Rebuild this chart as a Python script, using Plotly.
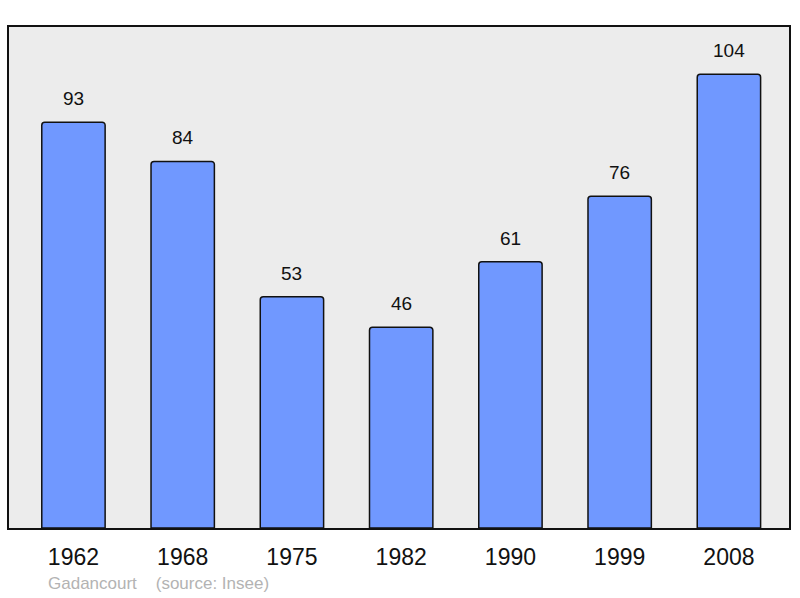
import plotly.graph_objects as go

# population by census year
years = ["1962", "1968", "1975", "1982", "1990", "1999", "2008"]
population = [93, 84, 53, 46, 61, 76, 104]

town = "Gadancourt"
source = "(source: Insee)"

fig = go.Figure()

fig.add_trace(go.Bar(
    x=years,
    y=population,
    width=0.58,
    marker=dict(color="#7098ff", line=dict(color="#111111", width=1.5), cornerradius=3),
    hoverinfo="x+y",
))

# value labels above each bar (x by category index)
for i, val in enumerate(population):
    fig.add_annotation(x=i, y=val, text=str(val), showarrow=False,
                       yanchor="bottom", yshift=11,
                       font=dict(family="Liberation Sans", size=19, color="#111111"))

fig.add_annotation(xref="paper", yref="paper", x=0.047, y=0, yshift=-55,
                   xanchor="left", yanchor="middle", showarrow=False,
                   text=town + "&nbsp;&nbsp;&nbsp;&nbsp;" + source,
                   font=dict(family="Liberation Sans", size=17, color="#b3b3b3"))

fig.update_layout(
    width=800, height=598,
    margin=dict(l=9, r=9, t=27, b=70),
    paper_bgcolor="white",
    plot_bgcolor="#ececec",
    showlegend=False,
    xaxis=dict(type="category", range=[-0.59, 6.55], showgrid=False,
               showline=True, mirror=True,
               linecolor="#111111", linewidth=2, ticks="outside", ticklen=7,
               tickcolor="rgba(0,0,0,0)",
               tickfont=dict(family="Liberation Sans", size=23, color="#111111")),
    yaxis=dict(range=[0, 114.8], showgrid=False, showline=True, mirror=True,
               linecolor="#111111", linewidth=2, showticklabels=False, zeroline=False),
)

fig.write_html("out.html", config={"displayModeBar": False},
               post_script="document.body.style.margin='0';")
